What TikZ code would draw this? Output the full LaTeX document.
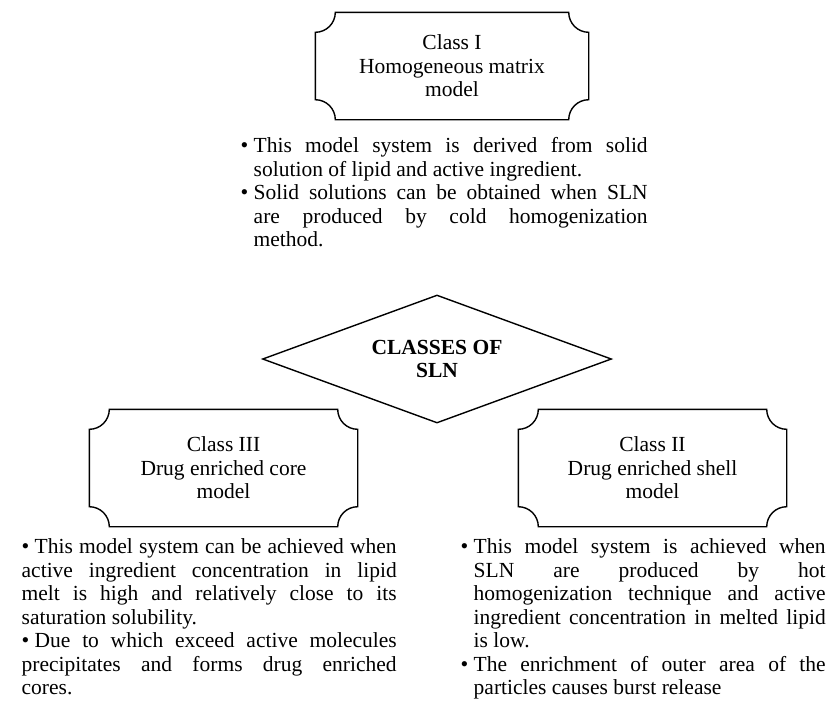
\documentclass[tikz,border=0pt]{standalone}
\usepackage{fontspec}
\setmainfont{Liberation Serif}
\usetikzlibrary{shapes.geometric}
\setlength{\parindent}{0pt}
\hbadness=10000

\begin{document}
\begin{tikzpicture}[x=0.5pt,y=-0.5pt,line width=0.7pt]
	\def \textsz{\fontsize{10.75pt}{11.75pt}\selectfont}
	\def \rr{10pt}
	\def \bul{\makebox[6.5pt][l]{\fontsize{11pt}{11pt}\selectfont\textbullet}}
	\def \notetop{538}
	\tikzstyle{plaque}=[inner sep=0pt,align=center,font=\textsz,minimum width=133.5pt,minimum height=58pt]
	\tikzstyle{hub}=[diamond,draw,inner sep=0pt,aspect=2.73,minimum width=174.5pt,minimum height=64pt,align=center,font=\textsz\bfseries]
	\tikzstyle{notes}=[inner sep=0pt,anchor=north west,align=justify,font=\textsz]
	\useasboundingbox (0,0) rectangle (838,708);

	% centre
	\node[hub] (sln) at (437,359) {CLASSES OF\\SLN};

	% classes
	\node[plaque,minimum width=136pt,minimum height=53pt] (c1) at (452,66) {Class I\\Homogeneous matrix\\model};
	\node[plaque] (c3) at (223.5,468) {Class III\\Drug enriched core\\model};
	\node[plaque] (c2) at (652.5,468) {Class II\\Drug enriched shell\\model};

	\foreach \n in {c1,c2,c3}
		\draw ([xshift=\rr]\n.north west) -- ([xshift=-\rr]\n.north east)
			arc[start angle=180,end angle=270,radius=\rr] -- ([yshift=\rr]\n.south east)
			arc[start angle=90,end angle=180,radius=\rr] -- ([xshift=\rr]\n.south west)
			arc[start angle=0,end angle=90,radius=\rr] -- ([yshift=-\rr]\n.north west)
			arc[start angle=270,end angle=360,radius=\rr] -- cycle;

	% notes
	\node[notes,text width=197pt] (n1) at (253,137)
		{\leavevmode\llap{\bul}This model system is derived from solid\linebreak solution of lipid and active ingredient.\par
		 \leavevmode\llap{\bul}Solid solutions can be obtained when SLN\linebreak are produced by cold homogenization\linebreak method.};
	\node[notes,text width=187.5pt] (n3) at (21,\notetop)
		{\bul This model system can be achieved when\linebreak active ingredient concentration in lipid\linebreak melt is high and relatively close to its\linebreak saturation solubility.\par
		 \bul Due to which exceed active molecules\linebreak precipitates and forms drug enriched\linebreak cores.};
	\node[notes,text width=176pt] (n2) at (473,\notetop)
		{\leavevmode\llap{\bul}This model system is achieved when\linebreak SLN are produced by hot\linebreak homogenization technique and active\linebreak ingredient concentration in melted lipid\linebreak is low.\par
		 \leavevmode\llap{\bul}The enrichment of outer area of the\linebreak particles causes burst release};
\end{tikzpicture}
\end{document}
